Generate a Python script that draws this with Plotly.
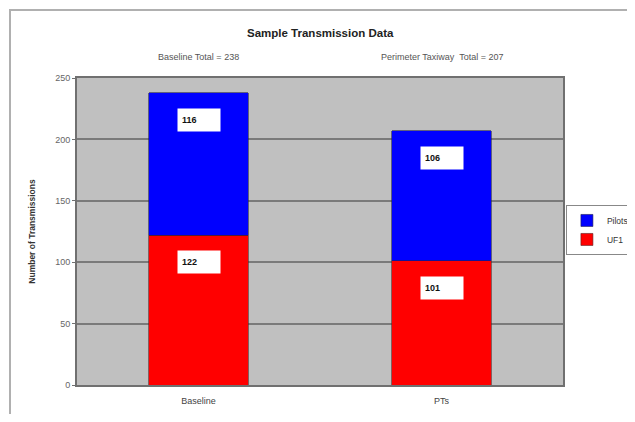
import plotly.graph_objects as go

categories = ["Baseline", "PTs"]
uf1 = [122, 101]
pilots = [116, 106]
subtitles = ["Baseline Total = 238", "Perimeter Taxiway  Total = 207"]
title = "Sample Transmission Data"
y_ticks = [0, 50, 100, 150, 200, 250]

FONT = "Liberation Sans, Arial, sans-serif"

W, H = 627, 406
L, R, T, B = 69, 72, 70, 29
PW, PH = W - L - R, H - T - B

fig = go.Figure()
fig.add_trace(go.Bar(x=categories, y=uf1, name="UF1", marker=dict(color="#ff0000", line=dict(color="#5a2020", width=0.6)), width=0.41))
fig.add_trace(go.Bar(x=categories, y=pilots, name="Pilots", marker=dict(color="#0000ff", line=dict(color="#202050", width=0.6)), width=0.41))

annotations = []
for i, c in enumerate(categories):
    tops = [uf1[i], uf1[i] + pilots[i]]
    vals = [uf1[i], pilots[i]]
    for t, v in zip(tops, vals):
        annotations.append(dict(x=c, y=t, xref="x", yref="y", text="<b>%d</b>" % v, showarrow=False,
                                yanchor="top", yshift=-15, bgcolor="white", width=34, height=14,
                                align="left", borderpad=4, font=dict(family=FONT, size=9, color="#111")))
    annotations.append(dict(x=c, y=1.068, xref="x", yref="paper", text=subtitles[i], showarrow=False,
                            yanchor="middle", font=dict(family=FONT, size=9, color="#555")))

annotations.append(dict(x=0.5, y=1.147, xref="paper", yref="paper", text="<b>%s</b>" % title, showarrow=False,
                        yanchor="middle", font=dict(family=FONT, size=11.5, color="#222")))

shapes = [dict(type="rect", xref="paper", yref="paper", x0=(2 - L) / PW, x1=(W + 20 - L) / PW,
               y0=(PH - (H + 20 - T)) / PH, y1=(T - 2) / PH + 1, line=dict(color="#b0b0b0", width=2), layer="below")]

fig.update_layout(
    barmode="stack",
    width=W, height=H,
    margin=dict(l=L, r=R, t=T, b=B, autoexpand=False),
    paper_bgcolor="white",
    plot_bgcolor="#c0c0c0",
    font=dict(family=FONT, size=9, color="#444"),
    showlegend=True,
    legend=dict(x=1.006, y=0.505, xanchor="left", yanchor="middle", traceorder="reversed",
                bgcolor="white", bordercolor="#888", borderwidth=1, font=dict(size=8.5, color="#333"),
                itemwidth=30),
    annotations=annotations,
    shapes=shapes,
)
fig.update_xaxes(showgrid=False, showline=True, linecolor="#707070", linewidth=2, mirror=True,
                 ticks="", ticklabelstandoff=6, tickfont=dict(size=9, color="#444"))
fig.update_yaxes(range=[0, 250], tickvals=y_ticks, showgrid=True, gridcolor="#7a7a7a", gridwidth=2,
                 showline=True, linecolor="#707070", linewidth=2, mirror=True, zeroline=False,
                 ticks="outside", ticklen=3, tickcolor="#707070", tickfont=dict(size=9, color="#666"),
                 title=dict(text="<b>Number of Transmissions</b>", font=dict(size=8.5, color="#333"), standoff=18))

fig.write_html("out.html")
